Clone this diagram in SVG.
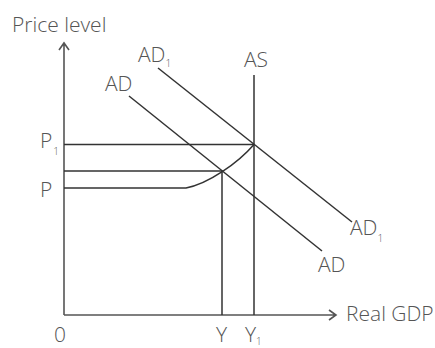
<svg xmlns="http://www.w3.org/2000/svg" width="435" height="348" viewBox="0 0 435 348">
<defs>
<style>
.ln{fill:none;stroke:#333;stroke-width:1.5}
.ax{fill:none;stroke:#555;stroke-width:1.6}
.t{font-family:"Open Sans","Noto Sans",sans-serif;font-weight:300;font-size:21px;fill:#555}
.s{font-size:10px}
</style>
</defs>
<rect width="435" height="348" fill="#fff"/>
<g id="connectors">
<path id="y-axis" class="ax" d="M64,315 V43 M59,50 L64,43 L69,50"/>
<path id="x-axis" class="ax" d="M64,315 H336 M329,310 L336,315 L329,320"/>
<path id="AS-line" class="ln" d="M254,75 V315"/>
<path id="AD-line" class="ln" d="M129,96 L322,251"/>
<path id="AD1-line" class="ln" d="M158,68 L352,222"/>
<path id="P1-line" class="ln" d="M64,144.5 H254"/>
<path id="mid-line" class="ln" d="M64,171 H222 V315"/>
<path id="P-curve" class="ln" d="M64,188 H186 C208,184 238,163 254,144.5"/>
</g>
<g id="label-price-level"><text class="t" x="12" y="32">Price level</text></g>
<g id="label-AD1-top"><text class="t" x="138" y="62">AD<tspan class="s" dy="5">1</tspan></text></g>
<g id="label-AD-top"><text class="t" x="105" y="91">AD</text></g>
<g id="label-AS"><text class="t" x="244" y="67">AS</text></g>
<g id="label-P1"><text class="t" x="40" y="148">P<tspan class="s" dx="1" dy="7">1</tspan></text></g>
<g id="label-P"><text class="t" x="40" y="197">P</text></g>
<g id="label-AD1-bottom"><text class="t" x="350" y="235">AD<tspan class="s" dy="7">1</tspan></text></g>
<g id="label-AD-bottom"><text class="t" x="318" y="272">AD</text></g>
<g id="label-real-gdp"><text class="t" x="346" y="321">Real GDP</text></g>
<g id="label-0"><text class="t" x="54" y="342">0</text></g>
<g id="label-Y"><text class="t" x="216" y="342">Y</text></g>
<g id="label-Y1"><text class="t" x="245" y="342">Y<tspan class="s" font-size="9" dy="3">1</tspan></text></g>
</svg>
